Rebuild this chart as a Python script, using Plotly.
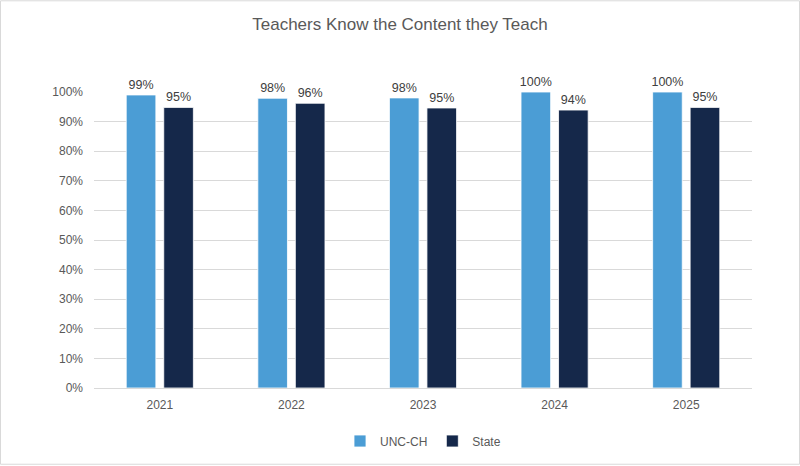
import plotly.graph_objects as go

# data
years = ["2021", "2022", "2023", "2024", "2025"]
unc_ch = [0.990, 0.979, 0.980, 1.000, 1.000]
state = [0.948, 0.962, 0.946, 0.939, 0.948]
unc_labels = ["99%", "98%", "98%", "100%", "100%"]
state_labels = ["95%", "96%", "95%", "94%", "95%"]
y_ticks = [i / 10 for i in range(11)]

fig = go.Figure()

fig.add_trace(
    go.Bar(
        x=years,
        y=unc_ch,
        name="UNC-CH",
        marker=dict(color="#4B9DD5", line=dict(color="#FFFFFF", width=0.8)),
        text=unc_labels,
        textposition="outside",
        textfont=dict(size=12.5, color="#404040"),
        cliponaxis=False,
    )
)

fig.add_trace(
    go.Bar(
        x=years,
        y=state,
        name="State",
        marker=dict(color="#15284A", line=dict(color="#FFFFFF", width=0.8)),
        text=state_labels,
        textposition="outside",
        textfont=dict(size=12.5, color="#404040"),
        cliponaxis=False,
    )
)

plot_w = 800 - 94 - 48
plot_h = 466 - 92 - 77

fig.update_layout(
    width=800,
    height=466,
    margin=dict(l=94, r=48, t=92, b=77),
    paper_bgcolor="white",
    plot_bgcolor="white",
    font=dict(family="Liberation Sans, Arial, sans-serif", color="#595959"),
    title=dict(
        text="Teachers Know the Content they Teach",
        x=0.5,
        xanchor="center",
        y=1 - 24 / 466,
        yanchor="middle",
        font=dict(size=17, color="#595959"),
    ),
    barmode="group",
    bargap=0.43,
    bargroupgap=0.21,
    # keep "100%" labels as big as the others even though they overhang the bar
    uniformtext=dict(minsize=12.5, mode="show"),
    xaxis=dict(
        showgrid=False,
        showline=True,
        linecolor="#D9D9D9",
        linewidth=1,
        ticks="",
        ticklabelstandoff=6,
        tickfont=dict(size=12, color="#595959"),
    ),
    yaxis=dict(
        range=[0, 1],
        tickvals=y_ticks,
        tickformat=".0%",
        showgrid=True,
        gridcolor="#D9D9D9",
        gridwidth=1,
        zeroline=False,
        ticks="",
        ticklabelstandoff=10,
        tickfont=dict(size=12, color="#595959"),
    ),
    legend=dict(
        orientation="h",
        x=0.5,
        xanchor="center",
        y=-(441 - 389) / plot_h,
        yanchor="middle",
        font=dict(size=12, color="#595959"),
        itemwidth=30,
    ),
    shapes=[
        dict(
            type="rect",
            xref="paper",
            yref="paper",
            x0=-93.5 / plot_w,
            x1=1 + 47.5 / plot_w,
            y0=-76.5 / plot_h,
            y1=1 + 91.5 / plot_h,
            line=dict(color="#D9D9D9", width=1),
            layer="below",
        )
    ],
)

# drop the browser's default 8px body margin so the chart sits at 0,0
fig.write_html(
    "out.html",
    config={"displayModeBar": False},
    post_script="document.body.style.margin='0';",
)
